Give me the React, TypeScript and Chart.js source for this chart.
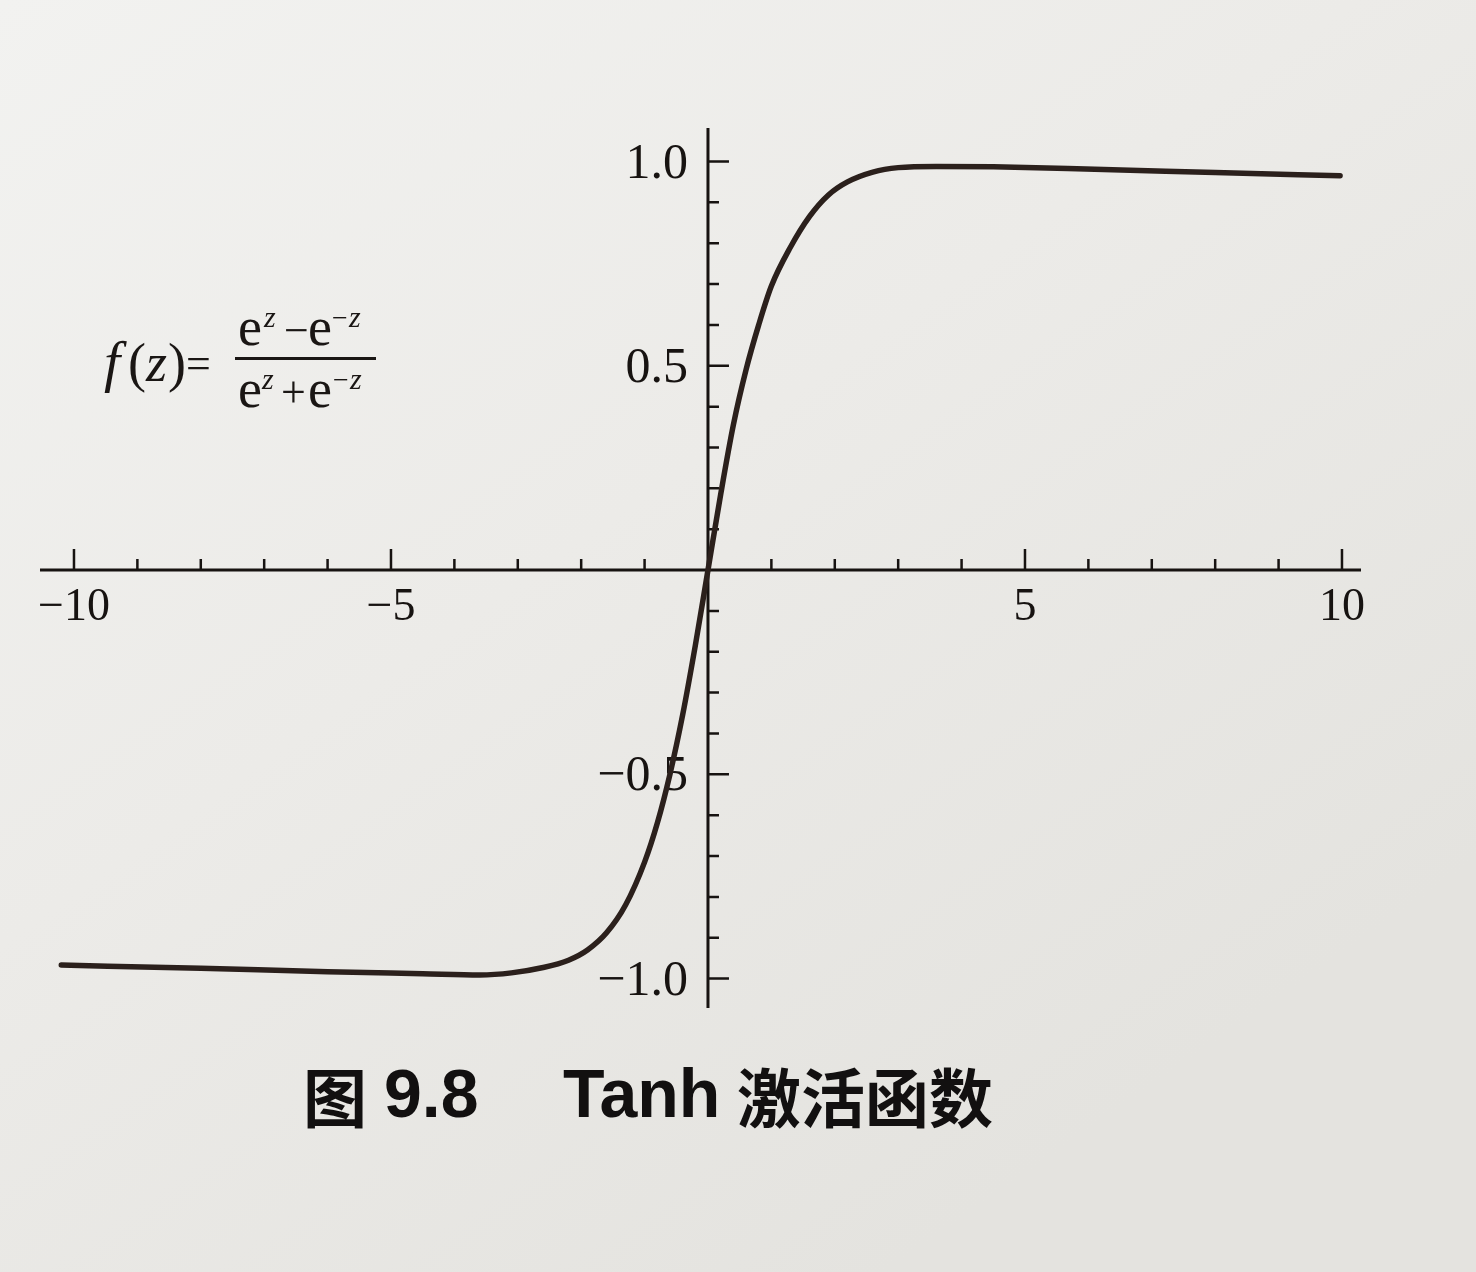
import React, { useEffect, useRef } from "react";
import { Chart, registerables } from "chart.js";

Chart.register(...registerables);

// ---- data ----
const zValues = [
  -10.2, -8.0, -6.0, -4.5, -3.6, -3.1, -2.6, -2.2, -1.9, -1.6, -1.3, -1.0, -0.8, -0.6, -0.4, -0.2,
  0, 0.2, 0.4, 0.6, 0.8, 1.0, 1.3, 1.6, 1.9, 2.2, 2.6, 3.0, 3.6, 4.5, 6.1, 8.0, 9.97,
];
const fValues = [
  -0.967, -0.975, -0.983, -0.988, -0.991, -0.986, -0.973, -0.955, -0.93, -0.888, -0.82, -0.715,
  -0.62, -0.5, -0.355, -0.185, 0, 0.185, 0.355, 0.49, 0.6, 0.695, 0.79, 0.865, 0.918, 0.95, 0.974,
  0.985, 0.988, 0.987, 0.981, 0.973, 0.965,
];

const xMajorTicks = [-10, -5, 5, 10];
const xTickLabels = ["\u221210", "\u22125", "5", "10"];
const xMinorTicks = [-9, -8, -7, -6, -4, -3, -2, -1, 1, 2, 3, 4, 6, 7, 8, 9];
const yMajorTicks = [1, 0.5, -0.5, -1];
const yTickLabels = ["1.0", "0.5", "\u22120.5", "\u22121.0"];
const yMinorTicks = [0.9, 0.8, 0.7, 0.6, 0.4, 0.3, 0.2, 0.1, -0.1, -0.2, -0.3, -0.4, -0.6, -0.7, -0.8, -0.9];

const captionParts = ["图", "9.8", "Tanh", "激活函数"];

const W = 1476;
const H = 1272;
const AXIS = "#171311";
const CURVE = "#2b201c";
const SERIF = '"Liberation Serif", "DejaVu Serif", serif';

const backgroundPlugin = {
  id: "paper",
  beforeDraw(chart: any) {
    const { ctx, width, height } = chart;
    ctx.save();
    const g = ctx.createLinearGradient(0, 0, width * 0.6, height);
    g.addColorStop(0, "#f2f2f0");
    g.addColorStop(0.5, "#ecebe8");
    g.addColorStop(1, "#e4e3df");
    ctx.fillStyle = g;
    ctx.fillRect(0, 0, width, height);
    ctx.restore();
  },
};

const axesPlugin = {
  id: "centerAxes",
  beforeDatasetsDraw(chart: any) {
    const { ctx, chartArea } = chart;
    const xs = chart.scales.x;
    const ys = chart.scales.y;
    const x0 = xs.getPixelForValue(0);
    const y0 = ys.getPixelForValue(0);
    ctx.save();
    ctx.strokeStyle = AXIS;
    ctx.fillStyle = AXIS;
    ctx.lineCap = "butt";
    ctx.lineWidth = 3;
    ctx.beginPath();
    ctx.moveTo(chartArea.left, y0);
    ctx.lineTo(chartArea.right, y0);
    ctx.moveTo(x0, chartArea.top);
    ctx.lineTo(x0, chartArea.bottom);
    ctx.stroke();

    ctx.lineWidth = 2.5;
    ctx.beginPath();
    xMinorTicks.forEach((v) => {
      const px = xs.getPixelForValue(v);
      ctx.moveTo(px, y0);
      ctx.lineTo(px, y0 - 11);
    });
    xMajorTicks.forEach((v) => {
      const px = xs.getPixelForValue(v);
      ctx.moveTo(px, y0);
      ctx.lineTo(px, y0 - 21);
    });
    yMinorTicks.forEach((v) => {
      const py = ys.getPixelForValue(v);
      ctx.moveTo(x0, py);
      ctx.lineTo(x0 + 11, py);
    });
    yMajorTicks.forEach((v) => {
      const py = ys.getPixelForValue(v);
      ctx.moveTo(x0, py);
      ctx.lineTo(x0 + 21, py);
    });
    ctx.stroke();

    ctx.font = `46px ${SERIF}`;
    ctx.textAlign = "center";
    ctx.textBaseline = "middle";
    xMajorTicks.forEach((v, i) => {
      ctx.fillText(xTickLabels[i], xs.getPixelForValue(v), y0 + 38);
    });
    ctx.font = `50px ${SERIF}`;
    ctx.textAlign = "right";
    yMajorTicks.forEach((v, i) => {
      ctx.fillText(yTickLabels[i], x0 - 20, ys.getPixelForValue(v) + 3);
    });
    ctx.restore();
  },
};

const textPlugin = {
  id: "annotText",
  afterDraw(chart: any) {
    const { ctx } = chart;
    ctx.save();
    ctx.fillStyle = "#1a1614";
    ctx.textAlign = "left";
    ctx.textBaseline = "alphabetic";
    const put = (t: string, font: string, x: number, y: number) => {
      ctx.font = font;
      ctx.fillText(t, x, y);
    };
    const big = `54px ${SERIF}`;
    const bigI = `italic 54px ${SERIF}`;
    const op = `44px ${SERIF}`;
    const sup = `italic 30px ${SERIF}`;
    const supN = `28px ${SERIF}`;
    // f(z)=
    put("f", `italic 58px ${SERIF}`, 104, 381);
    put("(", big, 128, 381);
    put("z", bigI, 146, 381);
    put(")", big, 168, 381);
    put("=", op, 186, 378);
    // fraction bar
    ctx.fillRect(235, 357, 141, 3);
    // numerator
    put("e", big, 238, 345);
    put("z", sup, 264, 327);
    put("\u2212", op, 284, 345);
    put("e", big, 308, 345);
    put("\u2212", supN, 332, 327);
    put("z", sup, 349, 327);
    // denominator
    put("e", big, 238, 407);
    put("z", sup, 262, 389);
    put("+", op, 281, 407);
    put("e", big, 308, 407);
    put("\u2212", supN, 333, 389);
    put("z", sup, 350, 389);

    // caption
    ctx.fillStyle = "#121010";
    ctx.textBaseline = "middle";
    const capCJK = `bold 64px "Noto Sans CJK SC", "Noto Sans", sans-serif`;
    const capLat = `bold 68px "Liberation Sans", Arial, sans-serif`;
    const capX = [303, 384, 563, 737];
    captionParts.forEach((t, i) => put(t, i === 1 || i === 2 ? capLat : capCJK, capX[i], 1098));
    ctx.restore();
  },
};

export default function App() {
  const ref = useRef<HTMLCanvasElement | null>(null);
  useEffect(() => {
    document.body.style.margin = "0";
    const canvas = ref.current;
    if (!canvas) return;
    const points = zValues.map((z, i) => ({ x: z, y: fValues[i] }));
    const chart = new Chart(canvas, {
      type: "line",
      data: {
        datasets: [
          {
            data: points,
            borderColor: CURVE,
            borderWidth: 5.5,
            pointRadius: 0,
            cubicInterpolationMode: "monotone",
            borderCapStyle: "round",
            borderJoinStyle: "round",
            fill: false,
          },
        ],
      },
      options: {
        animation: false,
        responsive: false,
        events: [],
        layout: { padding: { left: 40, right: 115, top: 128, bottom: 264 } },
        plugins: { legend: { display: false }, tooltip: { enabled: false } },
        scales: {
          x: { type: "linear", min: -10.536, max: 10.3, display: false },
          y: { type: "linear", min: -1.072, max: 1.082, display: false },
        },
      },
      plugins: [backgroundPlugin, axesPlugin, textPlugin],
    });
    return () => chart.destroy();
  }, []);
  return (
    <div style={{ width: W, height: H }}>
      <canvas ref={ref} width={W} height={H} style={{ display: "block" }} />
    </div>
  );
}
